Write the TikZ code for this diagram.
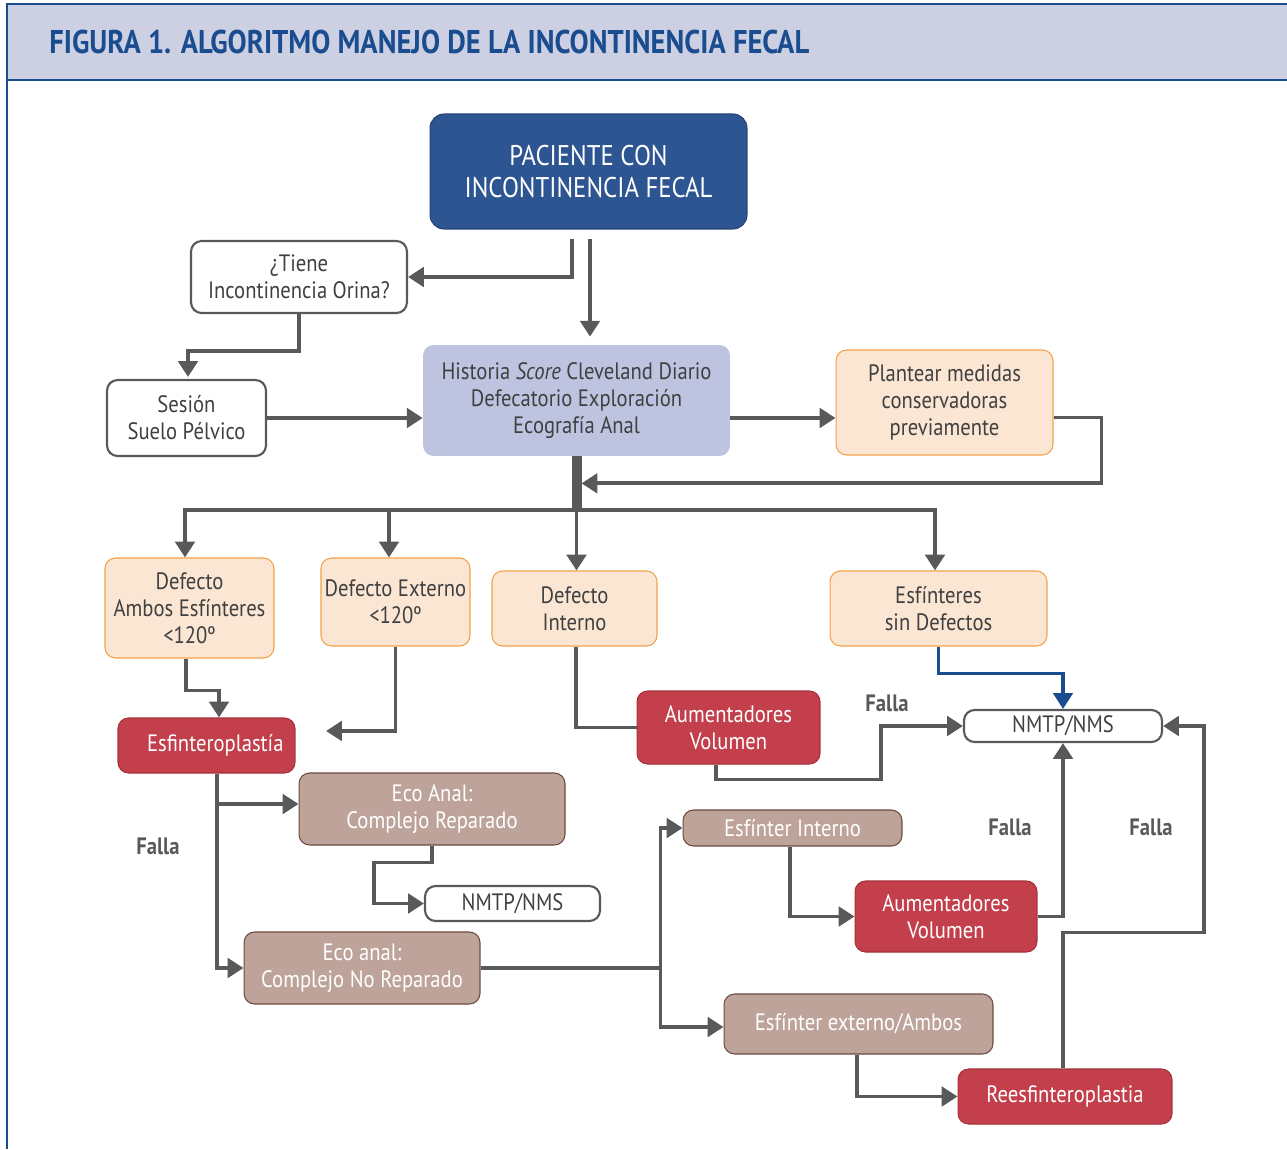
\documentclass[tikz,border=0pt]{standalone}
\usepackage{fontspec}
\setmainfont[FakeStretch=0.87]{PT Sans}
\usetikzlibrary{arrows.meta,calc}

\definecolor{linegray}{HTML}{58595B}
\definecolor{titlefill}{HTML}{CDD0E3}
\definecolor{titleblue}{HTML}{1A4D8F}
\definecolor{pacfill}{HTML}{2D5592}
\definecolor{histfill}{HTML}{BEC3DF}
\definecolor{peachfill}{HTML}{FAE6D2}
\definecolor{peachline}{HTML}{F3A14A}
\definecolor{redfill}{HTML}{C23F4B}
\definecolor{redline}{HTML}{A8303B}
\definecolor{taupefill}{HTML}{BDA39A}
\definecolor{taupeline}{HTML}{6E4A3F}
\definecolor{textgray}{HTML}{404041}

\newcommand{\boxfont}{\fontsize{13.5}{15.3}\selectfont}

\tikzset{
  box/.style={rectangle, rounded corners=6pt, align=center, inner sep=0pt,
    font=\boxfont, text=textgray},
  whitebox/.style={box, draw=linegray, line width=1.2pt, fill=white},
  peachbox/.style={box, draw=peachline, line width=0.6pt, fill=peachfill},
  redbox/.style={box, draw=redline, line width=0.6pt, fill=redfill, text=white},
  taupebox/.style={box, draw=taupeline, line width=0.6pt, fill=taupefill, text=white},
  conn/.style={draw=linegray, line width=2.2pt},
  arr/.style={conn, -{Triangle[length=9pt,width=11pt]}},
  falla/.style={font=\boxfont\bfseries, text=linegray, inner sep=0pt}
}

\begin{document}
\begin{tikzpicture}[x=0.02cm,y=-0.02cm]
  \useasboundingbox (0,0) rectangle (1287,1149);
  \fill[titlefill] (7,4) rectangle (1287,80);
  \draw[titleblue, line width=1pt] (1287,4) -- (7,4) -- (7,1149);
  \draw[titleblue, line width=1pt] (7,80) -- (1287,80);
  \node[anchor=west, inner sep=0pt, text=titleblue, font=\fontsize{18.7}{21}\selectfont\bfseries] (title) at (49,42)
    {FIGURA 1. ALGORITMO MANEJO DE LA INCONTINENCIA FECAL};

  % boxes
  \node[box, fill=pacfill, draw=pacfill!80!black, line width=0.6pt, text=white,
    font=\fontsize{16.2}{18.1}\selectfont, minimum width=6.34cm, minimum height=2.3cm,
    rounded corners=8pt] (pac) at (588.5,171.5) {PACIENTE CON\\INCONTINENCIA FECAL};
  \node[whitebox, minimum width=4.32cm, minimum height=1.44cm] (tiene) at (299,277) {¿Tiene\\Incontinencia Orina?};
  \node[whitebox, minimum width=3.18cm, minimum height=1.52cm] (ses) at (186.5,418) {Sesión\\Suelo Pélvico};
  \node[box, fill=histfill, minimum width=6.14cm, minimum height=2.22cm] (hist) at (576.5,400.5)
    {Historia \textit{Score} Cleveland Diario\\Defecatorio Exploración\\Ecografía Anal};
  \node[peachbox, minimum width=4.34cm, minimum height=2.1cm] (plant) at (944.5,402.5)
    {Plantear medidas\\conservadoras\\previamente};
  \node[peachbox, minimum width=3.38cm, minimum height=2cm] (ambos) at (189.5,608)
    {Defecto\\Ambos Esfínteres\\<120º};
  \node[peachbox, minimum width=2.98cm, minimum height=1.76cm] (ext) at (395.5,602) {Defecto Externo\\<120º};
  \node[peachbox, minimum width=3.3cm, minimum height=1.5cm] (int) at (574.5,608.5) {Defecto\\Interno};
  \node[peachbox, minimum width=4.34cm, minimum height=1.5cm] (sindef) at (938.5,608.5) {Esfínteres\\sin Defectos};
  \node[redbox, minimum width=3.54cm, minimum height=1.1cm] (esf) at (206.5,745.5) {\hspace*{10pt}Esfinteroplastía};
  \node[redbox, minimum width=3.66cm, minimum height=1.46cm] (aum1) at (728.5,727.5) {Aumentadores\\Volumen};
  \node[whitebox, minimum width=3.96cm, minimum height=0.64cm] (nmtp1) at (1063,726) {NMTP/NMS};
  \node[taupebox, minimum width=5.32cm, minimum height=1.44cm] (ecorep) at (432,809) {Eco Anal:\\Complejo Reparado};
  \node[whitebox, minimum width=3.5cm, minimum height=0.7cm] (nmtp2) at (512.5,903.5) {NMTP/NMS};
  \node[taupebox, minimum width=4.72cm, minimum height=1.44cm] (econo) at (362,968) {Eco anal:\\Complejo No Reparado};
  \node[taupebox, minimum width=4.38cm, minimum height=0.72cm] (esfint) at (792.5,828) {Esfínter Interno};
  \node[redbox, minimum width=3.64cm, minimum height=1.42cm] (aum2) at (946,916.5) {Aumentadores\\Volumen};
  \node[taupebox, minimum width=5.38cm, minimum height=1.2cm] (esfext) at (858.5,1024) {Esfínter externo/Ambos};
  \node[redbox, minimum width=4.28cm, minimum height=1.1cm] (reesf) at (1065,1096.5) {Reesfinteroplastia};

  \node[falla] (falla1) at (887,703) {Falla};
  \node[falla] (falla2) at (1010,827) {Falla};
  \node[falla] (falla3) at (1151,827) {Falla};
  \node[falla] (falla4) at (158,846) {Falla};

  % connectors
  \draw[arr] ($(pac.south)+(-16.5,9)$) |- (tiene.east);
  \draw[arr] ($(pac.south)+(1.5,9)$) -- ($(hist.north)+(13.5,-8)$);
  \draw[arr] (tiene.south) -- ++(0,37) -| ($(ses.north)+(1.5,-2)$);
  \draw[arr] (ses.east) -- (ses.east -| hist.west);
  \draw[arr] (hist.east |- ses.east) -- (plant.west |- ses.east);
  \draw[linegray, line width=5.7pt] (hist.south) -- ++(0,54) coordinate (hub);
  \draw[arr] ($(plant.east)+(0,15)$) -- ++(48,0) |- ($(hist.south)+(5,27)$);
  \draw[arr] (hub) -| ($(ambos.north)+(-4.5,0)$);
  \draw[arr] (hub) -| ($(ext.north)+(-6.5,0)$);
  \draw[arr] (hub) -- (hub |- int.north);
  \draw[arr] (hub) -| ($(sindef.north)+(-3.5,0)$);

  \draw[arr] ($(ambos.south)+(-3.5,0)$) -- ++(0,32) -| ($(esf.north)+(12.5,0)$);
  \coordinate (extfree) at (326,731);
  \draw[arr] (ext.south) |- (extfree);
  \draw[conn] ($(int.south)+(1.5,0)$) |- (aum1.west);
  \draw[arr] ($(aum1.south)+(-12.5,0)$) -- ++(0,15) -| ($(nmtp1.west)+(-82,0)$) -- (nmtp1.west);
  \draw[arr, titleblue, line width=2pt] (sindef.south) -- ++(0,27) -| (nmtp1.north);

  \draw[arr] ($(esf.south)+(10.5,0)$) |- (econo.west);
  \draw[arr] ($(esf.south)+(10.5,0)$) |- ($(ecorep.west)+(0,-5)$);
  \draw[arr] (ecorep.south) -- ++(0,17) -- ++(-58,0) |- (nmtp2.west);
  \coordinate (fork) at ($(esfint.west |- econo.east)+(-22,0)$);
  \draw[conn] (econo.east) -- (fork);
  \draw[arr] (fork) |- (esfint.west);
  \draw[arr] (fork) |- ($(esfext.west)+(0,3)$);
  \draw[arr] ($(esfint.south)+(-2.5,0)$) |- (aum2.west);
  \draw[arr] (aum2.east) -| (nmtp1.south);
  \draw[arr] ($(esfext.south)+(-1.5,0)$) |- (reesf.west);
  \draw[arr] ($(reesf.north)+(-2,0)$) -- ++(0,-136) -| ($(nmtp1.east)+(41,0)$) -- (nmtp1.east);
\end{tikzpicture}
\end{document}
